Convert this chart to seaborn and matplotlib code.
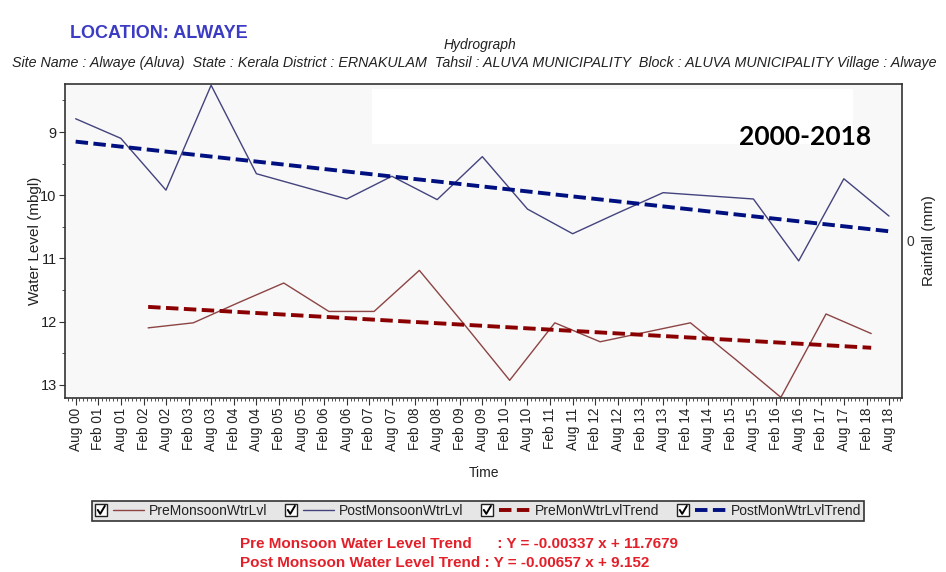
import numpy as np
import pandas as pd
import matplotlib
matplotlib.use("Agg")
import matplotlib.pyplot as plt
import matplotlib.dates as mdates
from matplotlib import font_manager
from matplotlib.legend_handler import HandlerLine2D
from matplotlib.patches import Rectangle
from matplotlib.lines import Line2D
import seaborn as sns

# ---- data: water level below ground (m) ----
post_years = [2000, 2001, 2002, 2003, 2004, 2005, 2006, 2007, 2008, 2009,
              2010, 2011, 2012, 2013, 2014, 2015, 2016, 2017, 2018]
post_level = [8.79, 9.10, 9.92, 8.26, 9.66, 9.86, 10.06, 9.70, 10.07, 9.39,
              10.22, 10.61, 10.28, 9.96, 10.01, 10.06, 11.04, 9.74, 10.33]

pre_years = [2002, 2003, 2004, 2005, 2006, 2007, 2008, 2009, 2010, 2011,
             2012, 2013, 2014, 2015, 2016, 2017, 2018]
pre_level = [12.10, 12.02, 11.70, 11.39, 11.84, 11.84, 11.19, 12.05, 12.93, 12.02,
             12.32, 12.17, 12.02, 12.60, 13.20, 11.88, 12.19]

# trend equations (x in months from first reading)
pre_slope, pre_icpt = -0.00337, 11.7679
post_slope, post_icpt = -0.00657, 9.152

post_dates = pd.to_datetime([f"{y}-08-01" for y in post_years])
pre_dates = pd.to_datetime([f"{y}-03-10" for y in pre_years])


def months_since(dates):
    d0 = dates[0]
    return np.array([(d.year - d0.year) * 12 + (d.month - d0.month) for d in dates], float)


pre_trend = pre_icpt - pre_slope * months_since(pre_dates)
post_trend = post_icpt - post_slope * months_since(post_dates)

# ---- fonts ----
sns.set_theme(style="white")
names = {f.name for f in font_manager.fontManager.ttflist}
narrow = "Liberation Sans Narrow" if "Liberation Sans Narrow" in names else "Liberation Sans"
plt.rcParams["font.family"] = ["Liberation Sans", "DejaVu Sans"]

fig = plt.figure(figsize=(9.46, 5.72), dpi=100)
fig.patch.set_facecolor("white")
W, H = 946, 572
ax = fig.add_axes([65 / W, 1 - 398 / H, (902 - 65) / W, (398 - 84) / H])
ax.set_facecolor("#f8f8f8")

c_pre, c_post = "#8c4444", "#43437e"
c_pre_tr, c_post_tr = "#8b0000", "#001080"
dash = (0, (3.2, 1.4))

sns.lineplot(x=pre_dates, y=pre_level, ax=ax, color=c_pre, lw=1.0,
             label="PreMonsoonWtrLvl", sort=False, estimator=None)
sns.lineplot(x=post_dates, y=post_level, ax=ax, color=c_post, lw=1.0,
             label="PostMonsoonWtrLvl", sort=False, estimator=None)
sns.lineplot(x=pre_dates, y=pre_trend, ax=ax, color=c_pre_tr, lw=2.8,
             linestyle=dash, label="PreMonWtrLvlTrend", sort=False, estimator=None)
sns.lineplot(x=post_dates, y=post_trend, ax=ax, color=c_post_tr, lw=2.8,
             linestyle=dash, label="PostMonWtrLvlTrend", sort=False, estimator=None)

handles, labels = ax.get_legend_handles_labels()
if ax.get_legend() is not None:
    ax.get_legend().remove()

# white label panel inside the plot
ax.add_patch(Rectangle((0.367, 0.81), 0.575, 0.175, transform=ax.transAxes,
                       facecolor="white", edgecolor="none", zorder=1))
ax.text(0.884, 0.83, "2000-2018", transform=ax.transAxes, ha="center", va="center",
        fontsize=19, fontweight="bold", family=["Lato", "DejaVu Sans"], color="black", zorder=5)

# axes, ticks
ax.set_xlim(pd.Timestamp("2000-05-07"), pd.Timestamp("2018-11-14"))
ax.set_ylim(13.21, 8.24)
ax.set_yticks([9, 10, 11, 12, 13])
ax.set_yticks(np.arange(8.5, 13.01, 0.5), minor=True)
ax.xaxis.set_major_locator(mdates.MonthLocator(bymonth=[2, 8]))
ax.xaxis.set_major_formatter(mdates.DateFormatter("%b %y"))
ax.xaxis.set_minor_locator(mdates.MonthLocator())
ax.tick_params(axis="x", which="major", direction="out", length=5, width=0.8,
               labelsize=9.8, rotation=90, pad=2, colors="#333333", bottom=True)
ax.tick_params(axis="x", which="minor", direction="out", length=2.5, width=0.6,
               colors="#333333", bottom=True)
ax.tick_params(axis="y", which="major", direction="out", length=4, width=0.8,
               labelsize=10.5, pad=2, colors="#333333", left=True)
ax.tick_params(axis="y", which="minor", direction="out", length=2.5, width=0.6,
               colors="#333333", left=True)
for lab in ax.get_xticklabels():
    lab.set_color("#222222")
for lab in ax.get_yticklabels():
    lab.set_color("#222222")
for s in ax.spines.values():
    s.set_color("#333333")
    s.set_linewidth(1.2)
ax.set_xlabel("Time", fontsize=10, family=[narrow, "DejaVu Sans"], color="#222222", labelpad=11)
ax.set_ylabel("Water Level (mbgl)", fontsize=11, color="#222222", labelpad=-1)
ax.grid(False)

ax2 = ax.twinx()
ax2.set_ylim(-1, 1)
ax2.set_yticks([0])
ax2.tick_params(axis="y", length=0, labelsize=10, pad=3, colors="#333333", right=True)
ax2.set_ylabel("Rainfall (mm)", fontsize=11, color="#222222", labelpad=6)
for s in ax2.spines.values():
    s.set_visible(False)
ax2.grid(False)

# ---- header texts ----
fig.text(70 / W, 1 - 34 / H, "LOCATION: ALWAYE", fontsize=13, fontweight="bold",
         color="#3b3bc4", va="center", ha="left")
fig.text(480 / W, 1 - 45 / H, "Hydrograph", fontsize=10, style="italic",
         family=[narrow, "DejaVu Sans"], color="#222222", va="center", ha="center")
fig.text(12 / W, 1 - 63 / H,
         "Site Name : Alwaye (Aluva)  State : Kerala District : ERNAKULAM  Tahsil : ALUVA MUNICIPALITY  "
         "Block : ALUVA MUNICIPALITY Village : Alwaye",
         fontsize=10.3, style="italic", family=[narrow, "DejaVu Sans"], color="#222222",
         va="center", ha="left")


# ---- legend with check boxes ----
class CheckHandler(HandlerLine2D):
    def create_artists(self, legend, orig_handle, xdescent, ydescent, width, height,
                       fontsize, trans):
        s = 1.15 * height
        off = s + 0.55 * height
        arts = super().create_artists(legend, orig_handle, xdescent - off, ydescent,
                                      width - off, height, fontsize, trans)
        x0 = -xdescent
        y0 = -ydescent + (height - s) / 2
        box = Rectangle((x0, y0), s, s, facecolor="white", edgecolor="#222222",
                        lw=1.0, transform=trans)
        tick = Line2D([x0 + 0.22 * s, x0 + 0.42 * s, x0 + 0.8 * s],
                      [y0 + 0.52 * s, y0 + 0.2 * s, y0 + 0.85 * s],
                      color="black", lw=1.4, transform=trans)
        return [box, tick] + list(arts)


leg = fig.legend(handles, labels, loc="center", bbox_to_anchor=(478 / W, 1 - 511 / H),
                 ncol=4, frameon=True, fancybox=False, facecolor="#e6e6e6",
                 edgecolor="#333333", framealpha=1, handlelength=3.5,
                 handleheight=0.8, handletextpad=0.35, columnspacing=1.3,
                 borderpad=0.25, borderaxespad=0,
                 handler_map={h: CheckHandler() for h in handles},
                 prop={"family": [narrow, "DejaVu Sans"], "size": 10})
leg.get_frame().set_linewidth(1.2)
for t in leg.get_texts():
    t.set_color("#222222")

# ---- trend equations ----
fig.text(240 / W, 1 - 544 / H,
         "Pre Monsoon Water Level Trend      : Y = -0.00337 x + 11.7679",
         fontsize=11, fontweight="bold", family=[narrow, "DejaVu Sans"], color="#e3202a",
         va="center", ha="left")
fig.text(240 / W, 1 - 563 / H,
         "Post Monsoon Water Level Trend : Y = -0.00657 x + 9.152",
         fontsize=11, fontweight="bold", family=[narrow, "DejaVu Sans"], color="#e3202a",
         va="center", ha="left")

fig.savefig("out.png", dpi=100, facecolor="white")
